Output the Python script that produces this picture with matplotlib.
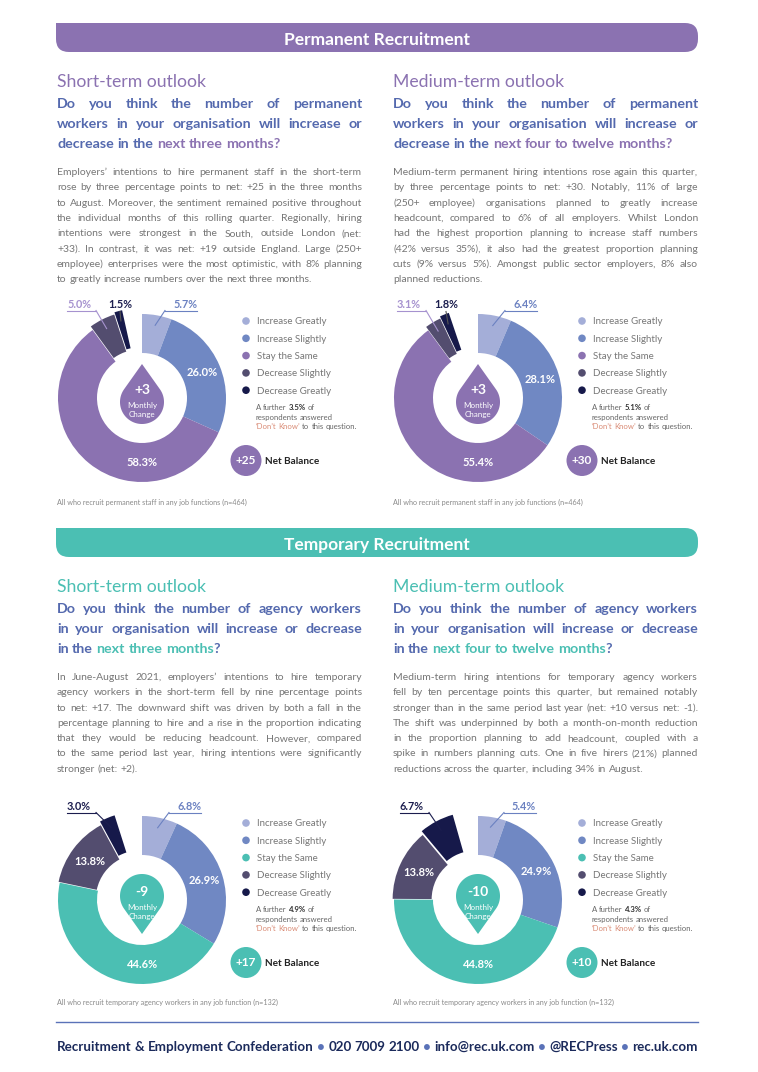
import numpy as np
import matplotlib.pyplot as plt
from matplotlib.patches import FancyBboxPatch, Rectangle, Circle, Polygon

plt.rcParams['font.family'] = ['Lato', 'DejaVu Sans']

# ---- data ----
categories = ['Increase Greatly', 'Increase Slightly', 'Stay the Same',
              'Decrease Slightly', 'Decrease Greatly']
perm_short = [5.7, 26.0, 58.3, 5.0, 1.5]
perm_medium = [6.4, 28.1, 55.4, 3.1, 1.8]
temp_short = [6.8, 26.9, 44.6, 13.8, 3.0]
temp_medium = [5.4, 24.9, 44.8, 13.8, 6.7]
dont_know = [3.5, 5.1, 4.9, 4.3]
monthly_change = [3, 3, -9, -10]
net_balance = [25, 30, 17, 10]

perm_note = 'All who recruit permanent staff in any job functions (n=464)'
temp_note = 'All who recruit temporary agency workers in any job function (n=132)'

perm_short_body = [
    "Employers\u2019 intentions to hire permanent staff in the short-term",
    "rose by three percentage points to net: +25 in the three months",
    "to August. Moreover, the sentiment remained positive throughout",
    "the individual months of this rolling quarter. Regionally, hiring",
    "intentions were strongest in the South, outside London (net:",
    "+33). In contrast, it was net: +19 outside England. Large (250+",
    "employee) enterprises were the most optimistic, with 8% planning",
    "to greatly increase numbers over the next three months.",
]
perm_medium_body = [
    "Medium-term permanent hiring intentions rose again this quarter,",
    "by three percentage points to net: +30. Notably, 11% of large",
    "(250+ employee) organisations planned to greatly increase",
    "headcount, compared to 6% of all employers. Whilst London",
    "had the highest proportion planning to increase staff numbers",
    "(42% versus 35%), it also had the greatest proportion planning",
    "cuts (9% versus 5%). Amongst public sector employers, 8% also",
    "planned reductions.",
]
temp_short_body = [
    "In June-August 2021, employers\u2019 intentions to hire temporary",
    "agency workers in the short-term fell by nine percentage points",
    "to net: +17. The downward shift was driven by both a fall in the",
    "percentage planning to hire and a rise in the proportion indicating",
    "that they would be reducing headcount. However, compared",
    "to the same period last year, hiring intentions were significantly",
    "stronger (net: +2).",
]
temp_medium_body = [
    "Medium-term hiring intentions for temporary agency workers",
    "fell by ten percentage points this quarter, but remained notably",
    "stronger than in the same period last year (net: +10 versus net: -1).",
    "The shift was underpinned by both a month-on-month reduction",
    "in the proportion planning to add headcount, coupled with a",
    "spike in numbers planning cuts. One in five hirers (21%) planned",
    "reductions across the quarter, including 34% in August.",
]

# ---- colours ----
purple = '#8B72B1'
teal = '#4BBFB3'
qblue = '#5469AE'
grey = '#767676'
inc_g = '#A4AED8'
inc_s = '#7088C3'
dec_s = '#534D6F'
dec_g = '#16194A'
salmon = '#D98A74'

W, H = 758, 1072
fig = plt.figure(figsize=(W / 100, H / 100), dpi=100)
ax = fig.add_axes([0, 0, 1, 1])
ax.set_xlim(0, W)
ax.set_ylim(H, 0)
renderer = fig.canvas.get_renderer()


def txt(x, y, s, size, color, weight='normal', ha='left', va='baseline'):
    return ax.text(x, y, s, fontsize=size, color=color, fontweight=weight,
                   ha=ha, va=va)


def width(t):
    return t.get_window_extent(renderer).width


def space_width(size, weight):
    a = txt(0, 0, 'x x', size, 'k', weight)
    b = txt(0, 0, 'xx', size, 'k', weight)
    w = width(a) - width(b)
    a.remove()
    b.remove()
    return w


def draw_line(segs, x0, x1, y, size, weight='normal', justify=False):
    # segs: (text, colour) or (text, colour, weight); split into words
    words = [[]]
    for seg in segs:
        s, c = seg[0], seg[1]
        wt = seg[2] if len(seg) > 2 else weight
        for i, p in enumerate(s.split(' ')):
            if i > 0:
                words.append([])
            if p:
                words[-1].append((p, c, wt))
    words = [w for w in words if w]
    objs, widths = [], []
    for w in words:
        row = [txt(0, y, p, size, c, wt) for p, c, wt in w]
        objs.append(row)
        widths.append([width(t) for t in row])
    sp = space_width(size, weight)
    total = sum(sum(w) for w in widths)
    gap = sp
    if justify and len(words) > 1:
        gap = max((x1 - x0 - total) / (len(words) - 1), sp * 0.6)
    x = x0
    for row, ws in zip(objs, widths):
        for t, w in zip(row, ws):
            t.set_x(x)
            x += w
        x += gap
    return x - gap - x0


def header(y0, label, color):
    x0, x1, h = 56, 698, 29
    ax.add_patch(FancyBboxPatch((x0, y0), x1 - x0, h,
                                boxstyle='round,pad=0,rounding_size=13',
                                fc=color, ec='none'))
    ax.add_patch(Rectangle((x0, y0), 20, 14, fc=color, ec='none'))
    txt(377, y0 + 22, label, 12.5, 'white', 'bold', ha='center')


def section(x0, x1, base, title, tcolor, qlines, body):
    txt(x0, base + 86.7, title, 12.7, tcolor)
    for i, segs in enumerate(qlines):
        draw_line(segs, x0, x1, base + 107.7 + i * 20.2, 10.3, 'bold',
                  justify=(i < len(qlines) - 1))
    for i, line in enumerate(body):
        draw_line([(line, grey)], x0, x1, base + 175 + i * 15.3, 7.5,
                  justify=(i < len(body) - 1))


# ---- headers and text ----
header(23, 'Permanent Recruitment', purple)
header(528, 'Temporary Recruitment', teal)

L0, L1, R0, R1 = 57, 362, 393, 698

perm_q = [[('Do you think the number of permanent', qblue)],
          [('workers in your organisation will increase or', qblue)]]
temp_q = [[('Do you think the number of agency workers', qblue)],
          [('in your organisation will increase or decrease', qblue)]]

section(L0, L1, 0, 'Short-term outlook', purple,
        perm_q + [[('decrease in the ', qblue), ('next three months?', purple)]],
        perm_short_body)
section(R0, R1, 0, 'Medium-term outlook', purple,
        perm_q + [[('decrease in the ', qblue),
                   ('next four to twelve months?', purple)]],
        perm_medium_body)
section(L0, L1, 505, 'Short-term outlook', teal,
        temp_q + [[('in the ', qblue), ('next three months', teal), ('?', qblue)]],
        temp_short_body)
section(R0, R1, 505, 'Medium-term outlook', teal,
        temp_q + [[('in the ', qblue), ('next four to twelve months', teal),
                   ('?', qblue)]],
        temp_medium_body)

# ---- donuts ----
R = 84
label_cols = ['#6B81C1', None, None, '#A692CF', '#1B1D4E']

charts = [
    dict(cx=142, cy=398, vals=perm_short, mid=purple, note=perm_note, x0=L0,
         explode=[0, 0, 0, 4, 6],
         outside={0: ('right', 31), 3: ('left', -75), 4: ('mid', -22)}),
    dict(cx=478, cy=398, vals=perm_medium, mid=purple, note=perm_note, x0=R0,
         explode=[0, 0, 0, 4, 6],
         outside={0: ('right', 35), 3: ('left', -81), 4: ('mid', -32)}),
    dict(cx=142, cy=900, vals=temp_short, mid=teal, note=temp_note, x0=L0,
         explode=[0, 0, 0, 1.5, 5],
         outside={0: ('right', 35), 4: ('left', -75)}),
    dict(cx=478, cy=900, vals=temp_medium, mid=teal, note=temp_note, x0=R0,
         explode=[0, 0, 0, 1.5, 5],
         outside={0: ('right', 34), 4: ('left', -78)}),
]


def polar(cx, cy, theta, r):
    t = np.radians(theta)
    return cx + r * np.sin(t), cy - r * np.cos(t)


for k, ch in enumerate(charts):
    cx, cy, vals, explode = ch['cx'], ch['cy'], ch['vals'], ch['explode']
    colors = [inc_g, inc_s, ch['mid'], dec_s, dec_g]
    # y axis is inverted: start at -90 and go "counterclockwise" = clockwise on page
    ax.pie(np.array(vals) / 100, colors=colors, radius=R, center=(cx, cy),
           startangle=-90, counterclock=True, normalize=False, explode=explode,
           wedgeprops=dict(width=39, linewidth=0))

    cum = np.concatenate([[0], np.cumsum(vals)])
    mids = (cum[:-1] + cum[1:]) / 2 * 3.6
    for i, v in enumerate(vals):
        lab = f'{v:.1f}%'
        if i in ch['outside']:
            mode, off = ch['outside'][i]
            col = label_cols[i]
            ax_, ay_ = polar(cx, cy, mids[i], 0.88 * R + explode[i])
            ty, uy = cy - 90, cy - 87.5
            if mode == 'mid':
                txt(cx + off, ty, lab, 7.8, col, 'bold', ha='center')
                ax.plot([cx + off, ax_], [uy + 1, ay_], color='#555555', lw=0.8)
            else:
                t = txt(cx + off, ty, lab, 7.8, col, 'bold')
                w = width(t)
                if mode == 'left':
                    ux0, ux1, ex = cx + off, cx + off + w + 5, cx + off + w + 5
                else:
                    ux0, ux1, ex = cx + off - 8, cx + off + w, cx + off - 8
                ax.plot([ux0, ux1], [uy, uy], color=col, lw=0.8)
                ax.plot([ex, ax_], [uy, ay_], color=col, lw=0.8)
        else:
            theta = 180 if i == 2 else mids[i]
            px, py = polar(cx, cy, theta, 65)
            txt(px, py, lab, 8, 'white', 'bold', ha='center', va='center')

    # droplet showing monthly change
    up = monthly_change[k] > 0
    r, d = 22, 38
    ccy = cy + 4 if up else cy - 4
    phi = -np.pi / 2 if up else np.pi / 2
    a = np.arccos(r / d)
    ts = np.linspace(phi + a, phi + 2 * np.pi - a, 80)
    pts = np.column_stack([cx + r * np.cos(ts), ccy + r * np.sin(ts)])
    tip = [cx + d * np.cos(phi), ccy + d * np.sin(phi)]
    ax.add_patch(Polygon(np.vstack([pts, tip]), closed=True, fc=ch['mid'], ec='none'))
    txt(cx, cy - 7.5, f'{monthly_change[k]:+d}', 10, 'white', 'bold',
        ha='center', va='center')
    txt(cx, cy + 7.5, 'Monthly', 5.8, 'white', ha='center', va='center')
    txt(cx, cy + 16.5, 'Change', 5.8, 'white', ha='center', va='center')

    # legend
    for i, cat in enumerate(categories):
        ly = cy - 77 + i * 17.3
        ax.add_patch(Circle((cx + 104, ly), 3.8, fc=colors[i], ec='none'))
        txt(cx + 115, ly, cat, 7, '#777777', va='center_baseline')

    # don't know note
    dx = cx + 114
    draw_line([('A further ', '#666666'), (f'{dont_know[k]}%', '#333333', 'bold'),
               (' of', '#666666')], dx, dx, cy + 12.5, 5.6)
    draw_line([('respondents answered', '#666666')], dx, dx, cy + 22, 5.6)
    draw_line([('\u2018Don\u2019t Know\u2019', salmon), (' to this question.', '#666666')],
              dx, dx, cy + 31.3, 5.6)

    # net balance
    ax.add_patch(Circle((cx + 104, cy + 62.5), 15.5, fc=ch['mid'], ec='none'))
    txt(cx + 104, cy + 62.5, f'+{net_balance[k]}', 8.5, 'white', 'bold',
        ha='center', va='center')
    txt(cx + 123, cy + 62.5, 'Net Balance', 7.2, '#222222', 'bold',
        va='center_baseline')

    # base note
    txt(ch['x0'], cy + 107 - (2 if k >= 2 else 0), ch['note'], 5.2, '#8a8a8a')

# ---- footer ----
ax.plot([56, 698], [1022, 1022], color='#5A72B8', lw=1)
navy = '#1B2A5B'
dot = '#5A72B8'
footer = [('Recruitment & Employment Confederation', navy), (' \u2022 ', dot),
          ('020 7009 2100', navy), (' \u2022 ', dot), ('info@rec.uk.com', navy),
          (' \u2022 ', dot), ('@RECPress', navy), (' \u2022 ', dot),
          ('rec.uk.com', navy)]
# size the footer so its natural width fills the column span
probe = txt(0, 0, ''.join(s for s, _ in footer), 9, navy, 'bold')
fsize = 9 * (698 - 57) / width(probe)
probe.remove()
draw_line(footer, 57, 698, 1051, fsize, 'bold', justify=True)

ax.set_xlim(0, W)
ax.set_ylim(H, 0)
ax.set_aspect('auto')
ax.axis('off')

fig.savefig('out.png', dpi=100)
